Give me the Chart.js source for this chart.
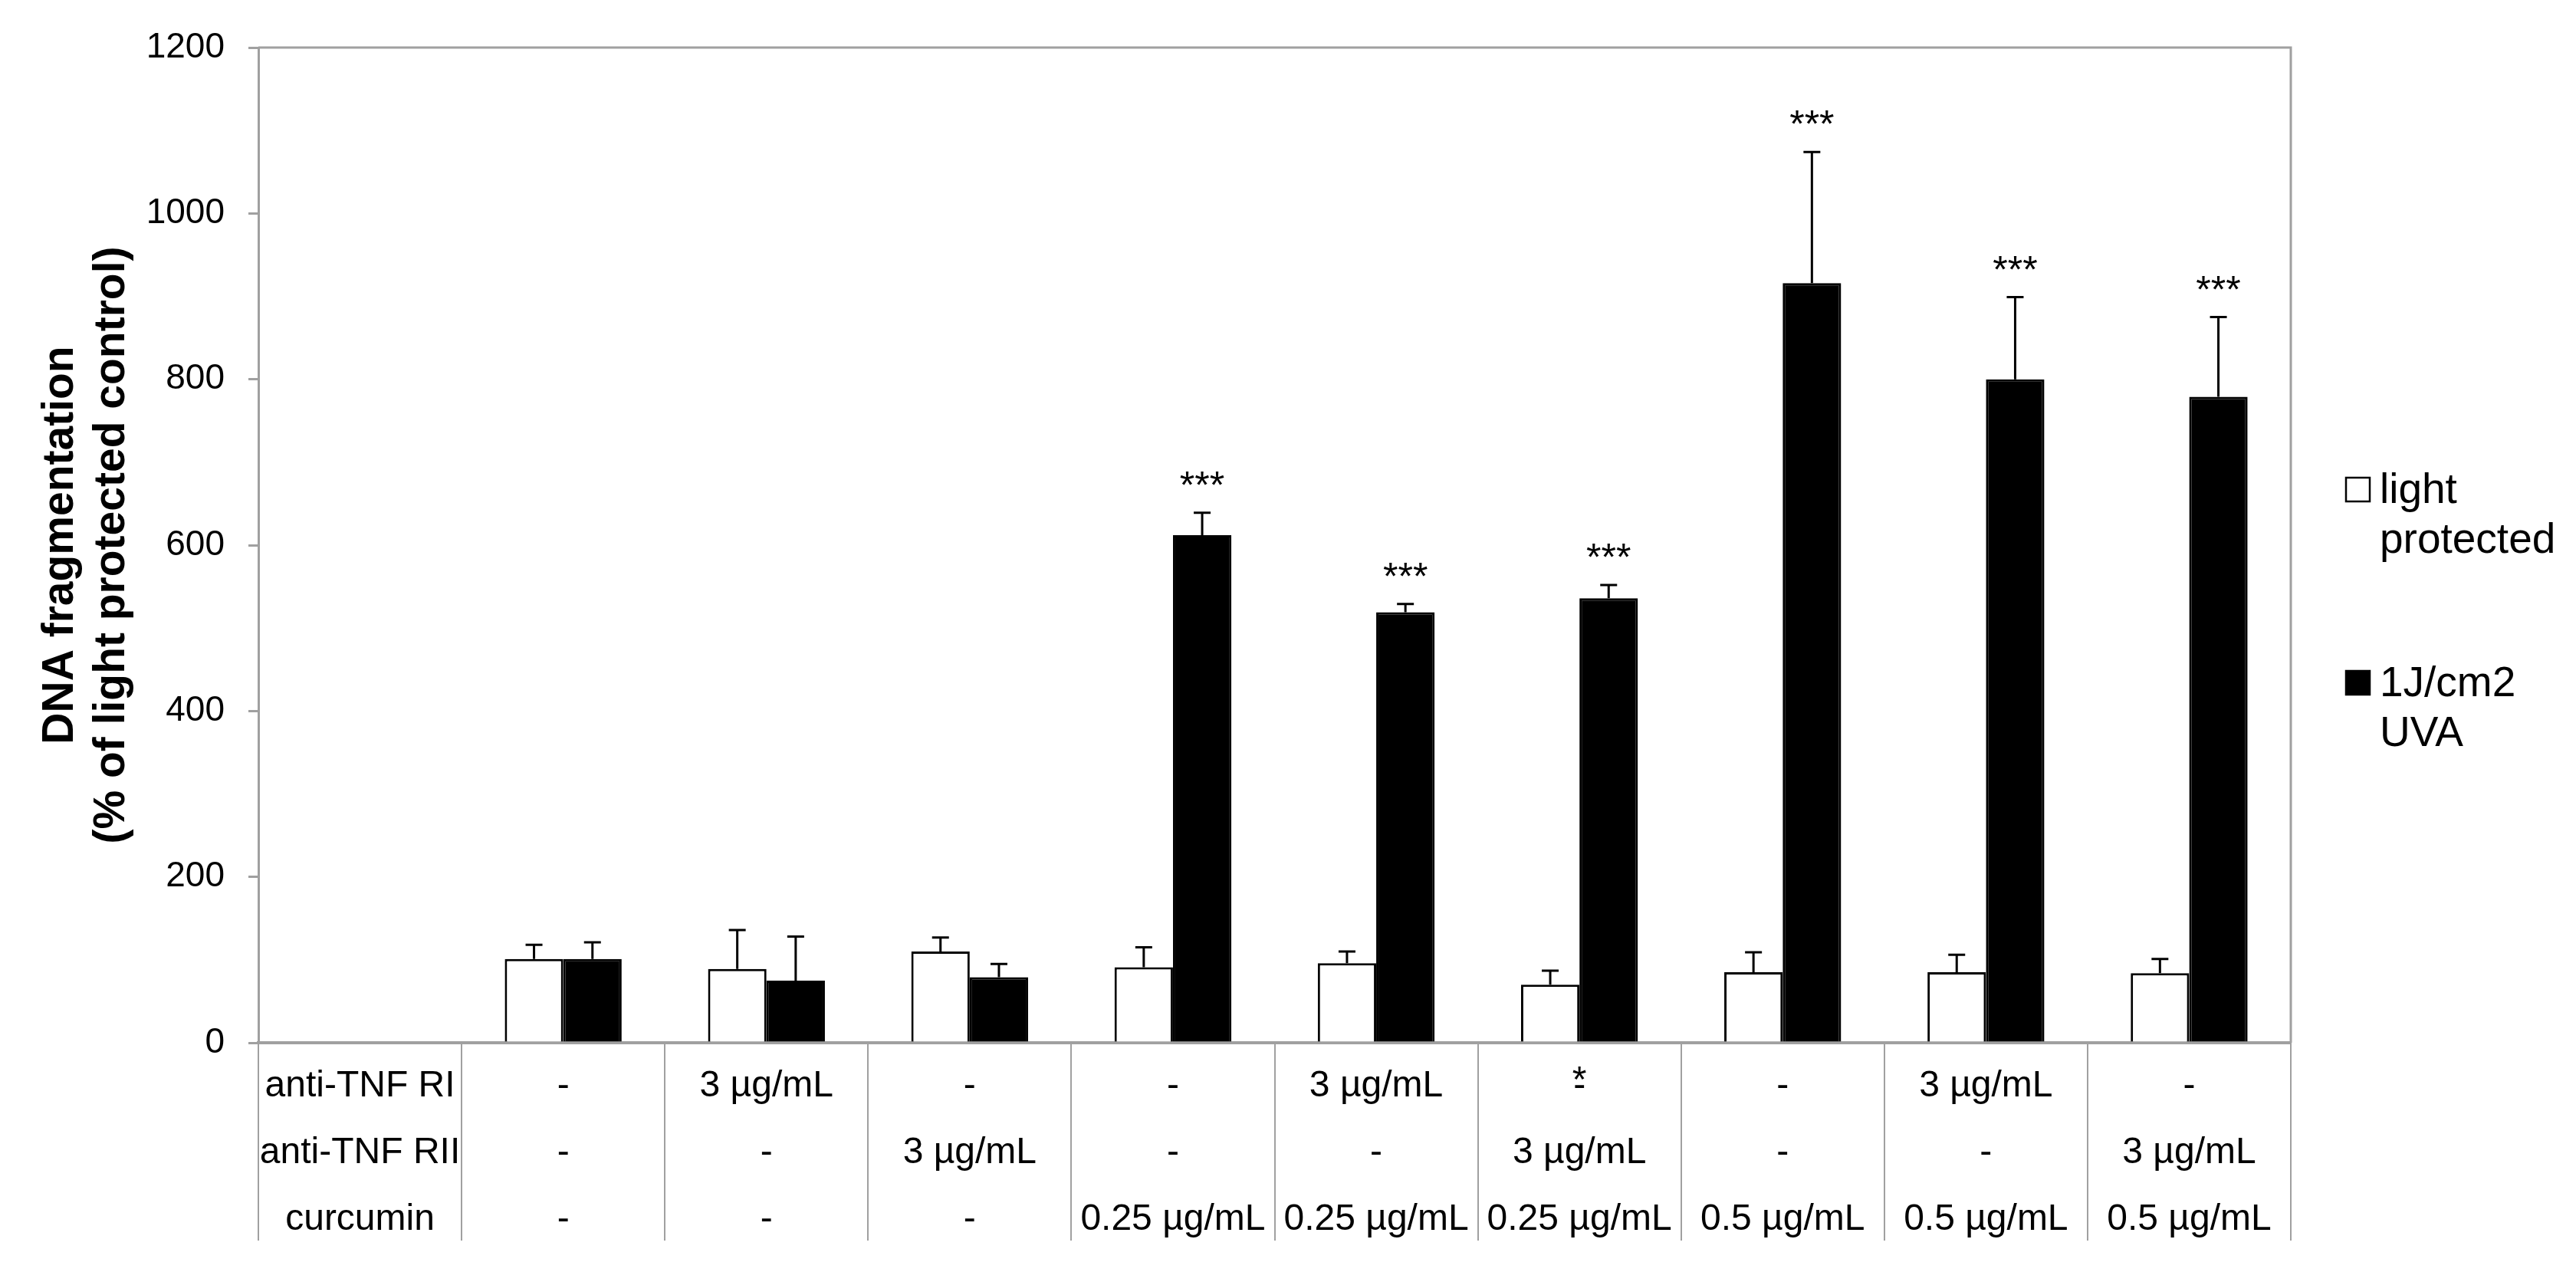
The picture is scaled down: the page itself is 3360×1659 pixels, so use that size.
<!DOCTYPE html>
<html>
<head>
<meta charset="utf-8">
<title>DNA fragmentation</title>
<script src="https://cdn.jsdelivr.net/npm/chart.js@4.4.0/dist/chart.umd.min.js"></script>
<style>
  html, body { margin: 0; padding: 0; background: #fff; }
  #wrap { width: 3360px; height: 1659px; position: relative; }
</style>
</head>
<body>
<div id="wrap"><canvas id="fragChart"></canvas></div>
<script>
  // Treatment table under the bars (one entry per bar group)
  const rowNames = ['anti-TNF RI', 'anti-TNF RII', 'curcumin'];
  const antiTnfRI = ['-', '3 µg/mL', '-', '-', '3 µg/mL', '-', '-', '3 µg/mL', '-'];
  const antiTnfRII = ['-', '-', '3 µg/mL', '-', '-', '3 µg/mL', '-', '-', '3 µg/mL'];
  const curcumin = ['-', '-', '-', '0.25 µg/mL', '0.25 µg/mL', '0.25 µg/mL', '0.5 µg/mL', '0.5 µg/mL', '0.5 µg/mL'];
  const antiTnfRIMarks = ['', '', '', '', '', '*', '', '', ''];

  // Series
  const seriesNames = ['light protected', '1J/cm2 UVA'];
  const lightProtected = [101, 89, 110, 91, 96, 70, 85, 85, 84];
  const lightProtectedErr = [17, 47, 17, 24, 14, 17, 24, 21, 17];
  const uva = [101, 75, 79, 612, 519, 536, 916, 800, 779];
  const uvaErr = [20, 53, 16, 27, 10, 16, 158, 99, 96];
  const uvaSig = ['', '', '', '***', '***', '***', '***', '***', '***'];

  // Y axis
  const yMin = 0;
  const yMax = 1200;
  const yStep = 200;
  const yTitle = ['DNA fragmentation', '(% of light protected control)'];

  const FONT = '"Liberation Sans", Arial, sans-serif';
  const AXIS_GREY = '#a0a0a0';
  const TABLE_FONT = 48;
  const TABLE_LINE = 87;
  const TABLE_DEPTH = 258;
  const TABLE_PAD = 1417 - 1360 - TABLE_DEPTH - TABLE_LINE / 2;

  // first category is the column holding the row names
  const labels = [rowNames].concat(antiTnfRI.map((v, i) => [v, antiTnfRII[i], curcumin[i]]));
  const withLead = arr => [null].concat(arr);

  const errorBars = {
    id: 'errorBars',
    afterDatasetsDraw(chart) {
      const ctx = chart.ctx;
      const y = chart.scales.y;
      const errs = [withLead(lightProtectedErr), withLead(uvaErr)];
      const sig = [null, withLead(uvaSig)];
      chart.data.datasets.forEach((ds, d) => {
        const meta = chart.getDatasetMeta(d);
        meta.data.forEach((bar, i) => {
          const v = ds.data[i];
          if (v == null) return;
          const top = y.getPixelForValue(v + errs[d][i]);
          ctx.save();
          ctx.strokeStyle = '#000';
          ctx.lineWidth = 3;
          ctx.beginPath();
          ctx.moveTo(bar.x, bar.y);
          ctx.lineTo(bar.x, top);
          ctx.moveTo(bar.x - 11, top);
          ctx.lineTo(bar.x + 11, top);
          ctx.stroke();
          if (sig[d] && sig[d][i]) {
            ctx.fillStyle = '#000';
            ctx.font = '50px ' + FONT;
            ctx.textAlign = 'center';
            ctx.textBaseline = 'alphabetic';
            ctx.fillText(sig[d][i], bar.x, top - 19);
          }
          ctx.restore();
        });
      });
    }
  };

  const frameAndLegend = {
    id: 'frameAndLegend',
    afterDraw(chart) {
      const ctx = chart.ctx;
      const a = chart.chartArea;
      const x = chart.scales.x;
      ctx.save();
      // top and right edge of the plot area
      ctx.strokeStyle = AXIS_GREY;
      ctx.lineWidth = 3;
      ctx.beginPath();
      ctx.moveTo(a.left, a.top);
      ctx.lineTo(a.right, a.top);
      ctx.lineTo(a.right, a.bottom);
      ctx.stroke();

      // stray mark sitting in the anti-TNF RI row
      ctx.fillStyle = '#000';
      ctx.font = TABLE_FONT + 'px ' + FONT;
      ctx.textAlign = 'center';
      ctx.textBaseline = 'middle';
      const rowY = x.top + TABLE_DEPTH + TABLE_PAD + TABLE_LINE / 2 - 6;
      antiTnfRIMarks.forEach((m, i) => {
        if (m) ctx.fillText(m, x.getPixelForValue(i + 1), rowY);
      });

      // legend
      const boxX = a.right + 72;
      const boxTops = [623, 875];
      ctx.font = '55px ' + FONT;
      ctx.textAlign = 'left';
      ctx.textBaseline = 'alphabetic';
      chart.data.datasets.forEach((ds, d) => {
        const t = boxTops[d];
        ctx.fillStyle = ds.backgroundColor;
        ctx.fillRect(boxX, t, 31, 31);
        ctx.strokeStyle = '#000';
        ctx.lineWidth = 2.5;
        ctx.strokeRect(boxX, t, 31, 31);
        ctx.fillStyle = '#000';
        ds.label.split(' ').forEach((line, k) => {
          ctx.fillText(line, boxX + 44, t + 33 + k * 65);
        });
      });
      ctx.restore();
    }
  };

  new Chart(document.getElementById('fragChart'), {
    type: 'bar',
    data: {
      labels: labels,
      datasets: [{
        label: seriesNames[0],
        data: withLead(lightProtected),
        backgroundColor: '#ffffff',
        borderColor: '#000000',
        borderWidth: 3,
        borderSkipped: 'bottom',
        barPercentage: 1.0,
        categoryPercentage: 0.575
      }, {
        label: seriesNames[1],
        data: withLead(uva),
        backgroundColor: '#000000',
        borderColor: '#000000',
        borderWidth: 3,
        borderSkipped: 'bottom',
        barPercentage: 1.0,
        categoryPercentage: 0.575
      }]
    },
    options: {
      responsive: true,
      maintainAspectRatio: false,
      devicePixelRatio: 1,
      animation: false,
      layout: { padding: { top: 62, right: 372, bottom: 0, left: 0 } },
      plugins: {
        legend: { display: false },
        tooltip: { enabled: false },
        title: { display: false }
      },
      scales: {
        x: {
          offset: true,
          grid: {
            offset: true,
            drawOnChartArea: false,
            drawTicks: true,
            tickLength: TABLE_DEPTH,
            color: AXIS_GREY,
            lineWidth: 2
          },
          border: { display: true, color: AXIS_GREY, width: 4 },
          ticks: {
            autoSkip: false,
            maxRotation: 0,
            minRotation: 0,
            padding: TABLE_PAD,
            color: '#000',
            font: { family: FONT, size: TABLE_FONT, lineHeight: TABLE_LINE / TABLE_FONT }
          },
          afterFit(scale) { scale.height = 299; }
        },
        y: {
          min: yMin,
          max: yMax,
          grid: {
            drawOnChartArea: false,
            drawTicks: true,
            tickLength: 13,
            color: AXIS_GREY,
            lineWidth: 3
          },
          border: { display: true, color: AXIS_GREY, width: 3 },
          ticks: {
            stepSize: yStep,
            padding: 31,
            color: '#000',
            font: { family: FONT, size: 46 },
            callback: value => String(value)
          },
          title: {
            display: true,
            text: yTitle,
            color: '#000',
            padding: { top: 46, bottom: 0 },
            font: { family: FONT, size: 57, weight: 'bold', lineHeight: 67 / 57 }
          },
          afterFit(scale) { scale.width = 337; }
        }
      }
    },
    plugins: [errorBars, frameAndLegend]
  });
</script>
</body>
</html>
